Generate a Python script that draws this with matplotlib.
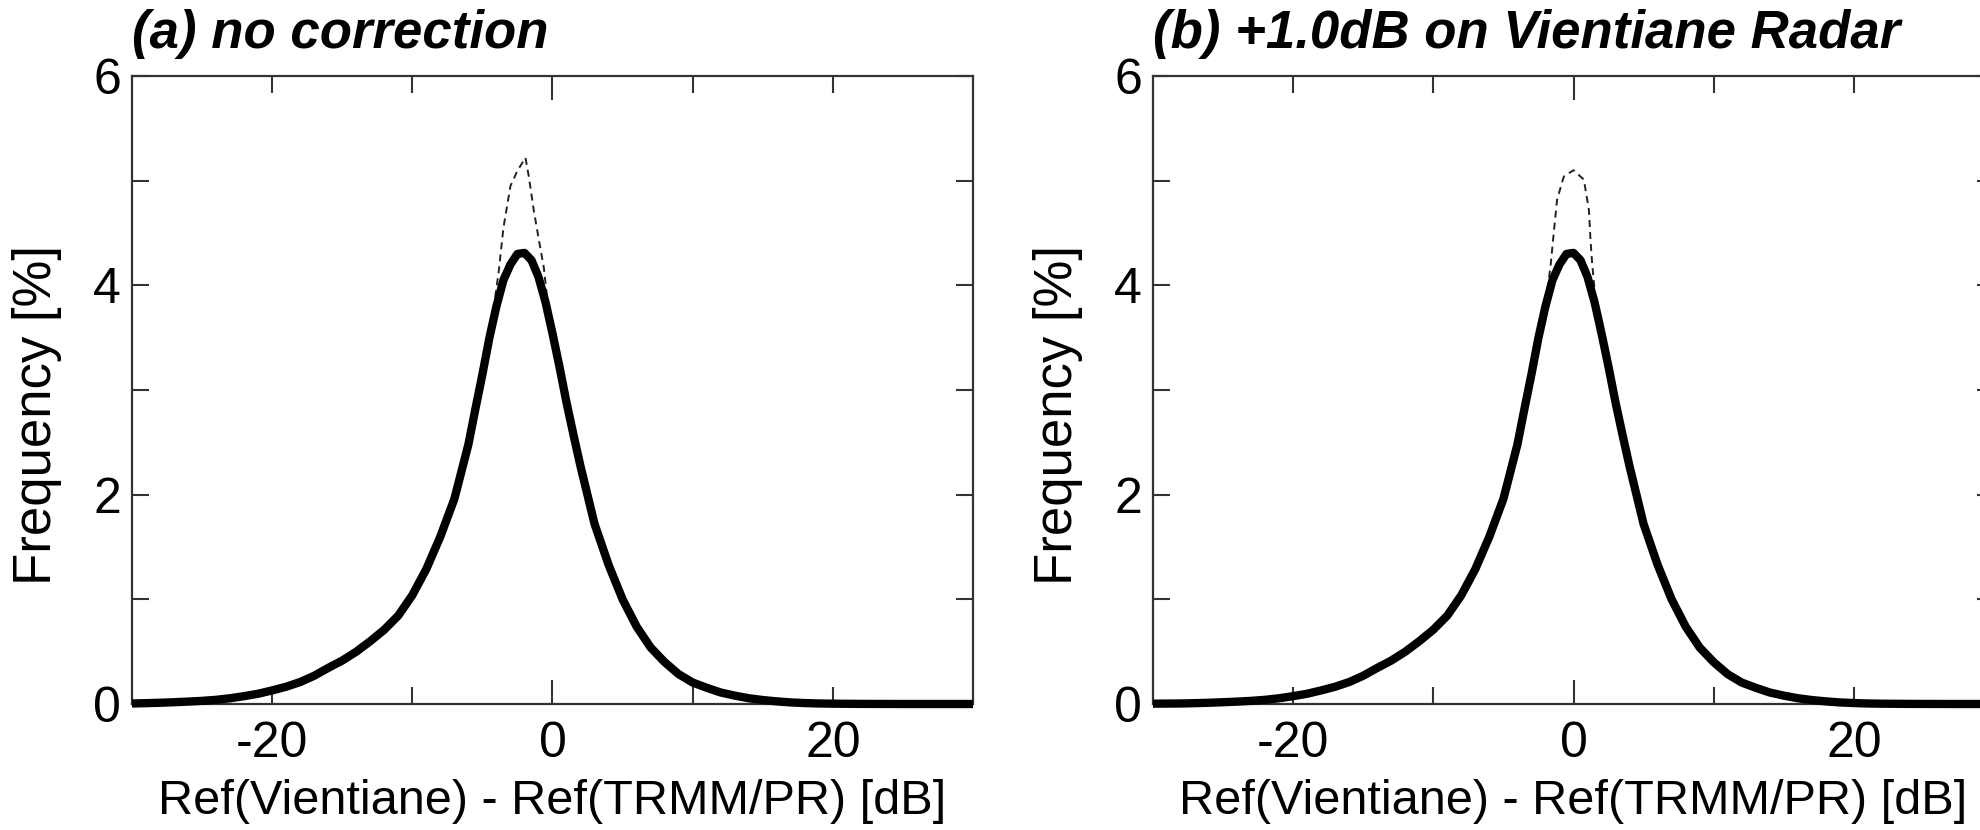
"""
Histogram of reflectivity difference, Vientiane radar vs TRMM/PR.
Two panels: (a) no correction, (b) +1.0 dB applied to the ground radar.
"""

import matplotlib

matplotlib.use("Agg")
import matplotlib.pyplot as plt

plt.rcParams["font.family"] = ["Liberation Sans", "DejaVu Sans"]

# ---- panel (a): no correction ----
fit_a_x = [-30, -29, -28, -27, -26, -25, -24, -23, -22, -21, -20, -19, -18, -17, -16,
           -15, -14, -13, -12, -11, -10, -9, -8, -7, -6, -5.5, -5, -4.5, -4, -3.5,
           -3, -2.5, -2, -1.5, -1, -0.5, 0, 0.5, 1, 1.5, 2, 3, 4, 5, 6, 7, 8, 9,
           10, 11, 12, 13, 14, 15, 16, 17, 18, 19, 20, 22, 25, 30]
fit_a_y = [0.005, 0.008, 0.012, 0.017, 0.023, 0.030, 0.040, 0.055, 0.075, 0.098, 0.13,
           0.165, 0.21, 0.27, 0.345, 0.415, 0.50, 0.60, 0.71, 0.845, 1.04, 1.29, 1.60,
           1.96, 2.48, 2.82, 3.15, 3.50, 3.80, 4.05, 4.20, 4.30, 4.31, 4.24, 4.08,
           3.84, 3.54, 3.22, 2.88, 2.57, 2.27, 1.72, 1.33, 1.00, 0.74, 0.54, 0.40,
           0.285, 0.205, 0.155, 0.11, 0.08, 0.055, 0.038, 0.025, 0.015, 0.009, 0.005,
           0.003, 0.001, 0.0, 0.0]

obs_a_x = [-30, -29, -28, -27, -26, -25, -24, -23, -22, -21, -20, -19, -18, -17, -16,
           -15, -14, -13, -12, -11, -10, -9, -8, -7, -6, -5, -4.5, -4.2, -3.84, -3.5,
           -3.0, -2.52, -1.93, -1.69, -1.34, -0.98, -0.62, -0.3, 0, 0.5, 1, 1.5, 2,
           3, 4, 5, 6, 7, 8, 9, 10, 11, 12, 13, 14, 15, 16, 17, 18, 19, 20, 22, 25, 30]
obs_a_y = [0.004, 0.007, 0.011, 0.018, 0.024, 0.031, 0.038, 0.057, 0.077, 0.096, 0.125,
           0.17, 0.205, 0.28, 0.335, 0.425, 0.48, 0.62, 0.70, 0.865, 1.02, 1.31, 1.58,
           1.99, 2.45, 3.18, 3.52, 3.78, 4.13, 4.55, 4.95, 5.09, 5.22, 5.04, 4.72,
           4.44, 4.17, 3.78, 3.52, 3.24, 2.85, 2.59, 2.25, 1.69, 1.35, 0.98, 0.76,
           0.52, 0.42, 0.275, 0.21, 0.15, 0.115, 0.075, 0.057, 0.036, 0.026, 0.014,
           0.010, 0.004, 0.003, 0.001, 0.0, 0.0]

# ---- panel (b): +1.0 dB on Vientiane radar ----
fit_b_x = [-30, -29, -28, -27, -26, -25, -24, -23, -22, -21, -20, -19, -18, -17, -16,
           -15, -14, -13, -12, -11, -10, -9, -8, -7, -6, -5, -4, -3.5, -3, -2.5,
           -2, -1.5, -1, -0.5, 0, 0.5, 1, 1.5, 2, 2.5, 3, 3.5, 4, 5, 6, 7, 8, 9,
           10, 11, 12, 13, 14, 15, 16, 17, 18, 19, 20, 21, 22, 24, 27, 30]
fit_b_y = [0.003, 0.004, 0.005, 0.008, 0.012, 0.017, 0.023, 0.030, 0.040, 0.055,
           0.075, 0.098, 0.13, 0.165, 0.21, 0.27, 0.345, 0.415, 0.50, 0.60, 0.71,
           0.845, 1.04, 1.29, 1.60, 1.96, 2.48, 2.82, 3.15, 3.50, 3.80, 4.05, 4.20,
           4.30, 4.31, 4.24, 4.08, 3.84, 3.54, 3.22, 2.88, 2.57, 2.27, 1.72, 1.33,
           1.00, 0.74, 0.54, 0.40, 0.285, 0.205, 0.155, 0.11, 0.08, 0.055, 0.038,
           0.025, 0.015, 0.009, 0.005, 0.003, 0.001, 0.0, 0.0]

obs_b_x = [-30, -29, -28, -27, -26, -25, -24, -23, -22, -21, -20, -19, -18, -17, -16,
           -15, -14, -13, -12, -11, -10, -9, -8, -7, -6, -5, -4, -3, -2.5, -2,
           -1.64, -1.41, -1.17, -0.69, 0, 0.74, 1.1, 1.21, 1.33, 1.6, 2, 2.5, 3,
           3.5, 4, 5, 6, 7, 8, 9, 10, 11, 12, 13, 14, 15, 16, 17, 18, 19, 20, 21,
           22, 24, 27, 30]
obs_b_y = [0.003, 0.005, 0.006, 0.009, 0.011, 0.018, 0.024, 0.031, 0.038, 0.057,
           0.077, 0.096, 0.125, 0.17, 0.205, 0.28, 0.335, 0.425, 0.48, 0.62, 0.70,
           0.865, 1.02, 1.31, 1.58, 1.99, 2.45, 3.18, 3.52, 3.82, 4.18, 4.50, 4.82,
           5.04, 5.10, 5.01, 4.72, 4.44, 4.21, 3.82, 3.52, 3.24, 2.85, 2.59, 2.25,
           1.69, 1.35, 0.98, 0.76, 0.52, 0.42, 0.275, 0.21, 0.15, 0.115, 0.075,
           0.057, 0.036, 0.026, 0.014, 0.010, 0.004, 0.003, 0.001, 0.0, 0.0]

titles = ["(a) no correction", "(b) +1.0dB on Vientiane Radar"]
xlabel = "Ref(Vientiane) - Ref(TRMM/PR) [dB]"
ylabel = "Frequency [%]"
xticks = [-20, -10, 0, 10, 20]
xticklabels = ["-20", "", "0", "", "20"]
yticks = [0, 1, 2, 3, 4, 5, 6]
yticklabels = ["0", "", "2", "", "4", "", "6"]


def style_axis(ax, title):
    ax.set_xlim(-30, 30)
    ax.set_ylim(0, 6)
    ax.set_xticks(xticks)
    ax.set_xticklabels(xticklabels)
    ax.set_yticks(yticks)
    ax.set_yticklabels(yticklabels)
    ax.tick_params(axis="both", direction="in", top=True, right=True,
                   width=1.5, labelsize=36, color="#333333")
    ax.tick_params(axis="x", length=12, pad=12)
    ax.tick_params(axis="y", length=12.5, pad=8)
    # the tick at 0 dB is drawn longer
    for t in ax.xaxis.get_major_ticks():
        if t.get_loc() == 0:
            t.tick1line.set_markersize(17.5)
            t.tick2line.set_markersize(17.5)
    for sp in ax.spines.values():
        sp.set_linewidth(1.6)
        sp.set_color("#333333")
    ax.set_xlabel(xlabel, fontsize=35)
    ax.xaxis.set_label_coords(0.5, -0.119)
    ax.set_ylabel(ylabel, fontsize=38)
    ax.yaxis.set_label_coords(-0.083, 0.46)
    ax.set_title(title, loc="left", fontsize=38, fontweight="bold",
                 fontstyle="italic", pad=20)


def main():
    fig = plt.figure(figsize=(19.81, 8.30), dpi=100)
    ax_a = fig.add_axes([132 / 1981, 1 - 704 / 830, 841 / 1981, 628 / 830])
    ax_b = fig.add_axes([1153 / 1981, 1 - 704 / 830, 841 / 1981, 628 / 830])

    panels = [(ax_a, fit_a_x, fit_a_y, obs_a_x, obs_a_y),
              (ax_b, fit_b_x, fit_b_y, obs_b_x, obs_b_y)]
    for (ax, fx, fy, ox, oy), title in zip(panels, titles):
        ax.plot(ox, oy, color="#222222", lw=1.4, ls=(0, (3.6, 2.6)), zorder=2)
        ax.plot(fx, fy, color="black", lw=6, solid_capstyle="butt",
                clip_on=False, zorder=3)
        style_axis(ax, title)

    fig.savefig("out.png", dpi=100)
    plt.close(fig)


if __name__ == "__main__":
    main()
